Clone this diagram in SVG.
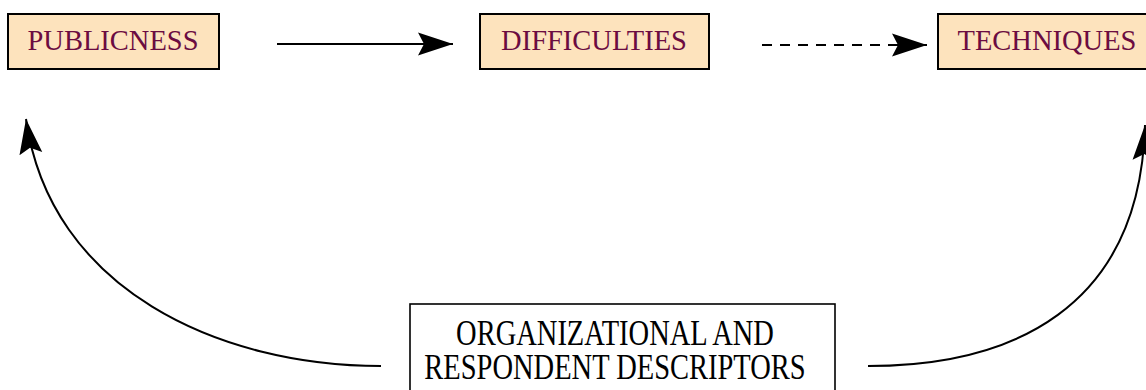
<svg xmlns="http://www.w3.org/2000/svg" width="1146" height="390" viewBox="0 0 1146 390">
  <style>
    .topic rect { fill: #fde3bd; stroke: #000; stroke-width: 2; }
    .topic text { font-family: "Liberation Serif", "Times New Roman", serif; font-size: 28.5px; fill: #6b0c41; text-anchor: middle; }
    .source rect { fill: #fff; stroke: #000; stroke-width: 1.6; }
    .source text { font-family: "Liberation Serif", "Times New Roman", serif; font-size: 28.5px; fill: #000; text-anchor: middle; }
    .link { fill: none; stroke: #000; stroke-width: 2; marker-end: url(#head); }
    .dashed { stroke-dasharray: 10 8; }
  </style>
  <defs>
    <marker id="head" markerUnits="userSpaceOnUse" markerWidth="36" markerHeight="26" viewBox="0 -12 36 24" refX="35" refY="0" orient="auto">
      <path d="M0,-11.5 L35,0 L0,11.5 L6,0 Z" fill="#000"/>
    </marker>
  </defs>

  <rect width="1146" height="390" fill="#fff"/>

  <g id="connectors">
    <path class="link" d="M277,44 L453,44"/>
    <path class="link dashed" d="M762,45 L927,45"/>
    <path class="link" d="M381,366 C220,366 50,290 26,119"/>
    <path class="link" d="M868,366 C1010,366 1140,310 1145,125"/>
  </g>

  <g id="publicness" class="topic">
    <rect x="8" y="14" width="211" height="55"/>
    <text x="113" y="50">PUBLICNESS</text>
  </g>

  <g id="difficulties" class="topic">
    <rect x="480" y="14" width="229" height="55"/>
    <text x="594" y="50">DIFFICULTIES</text>
  </g>

  <g id="techniques" class="topic">
    <rect x="938" y="14" width="220" height="55"/>
    <text x="1047" y="50">TECHNIQUES</text>
  </g>

  <g id="descriptors" class="source">
    <rect x="410" y="304" width="425" height="100"/>
    <text transform="translate(615,345) scale(1,1.25)">ORGANIZATIONAL AND</text>
    <text transform="translate(615,379) scale(1,1.25)">RESPONDENT DESCRIPTORS</text>
  </g>
</svg>
